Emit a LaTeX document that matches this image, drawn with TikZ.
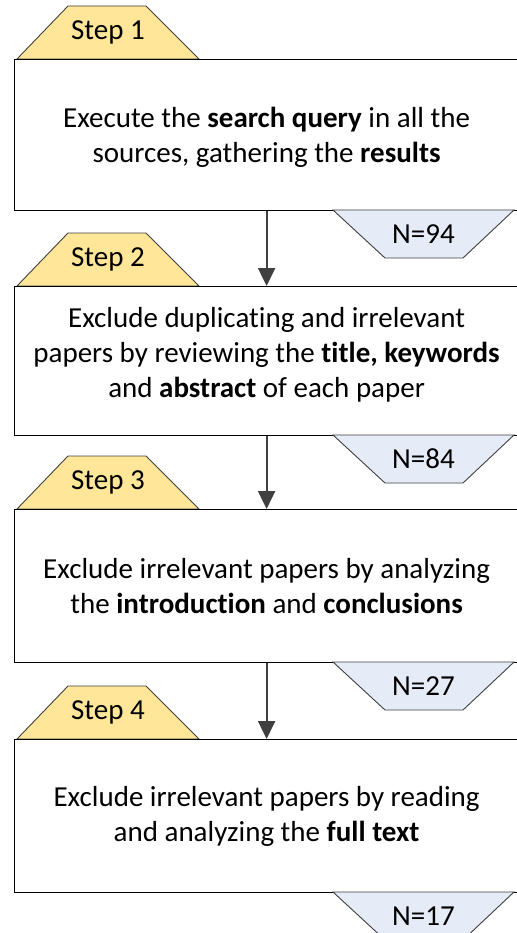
\documentclass[tikz,border=0pt]{standalone}
\usepackage{fontspec}
\setmainfont{Carlito}[Ligatures=NoCommon]
\usetikzlibrary{arrows.meta}
\definecolor{tabfill}{HTML}{FFE699}
\definecolor{nfill}{HTML}{E5EBF7}
\definecolor{edgegray}{HTML}{404040}
\begin{document}
\begin{tikzpicture}[x=1pt,y=-1pt,
  stepbox/.style={draw=black, line width=1.2pt, fill=white, minimum width=504pt,
    anchor=north west, inner sep=0pt},
  boxtext/.style={inner sep=0pt, align=center, font=\fontsize{29}{35}\selectfont},
  tabshape/.style={fill=tabfill, draw=edgegray, line width=0.9pt},
  nshape/.style={fill=nfill, draw=edgegray, line width=0.9pt},
  lbl/.style={font=\fontsize{29}{35}\selectfont, inner sep=0pt},
  flow/.style={draw=edgegray, line width=2.2pt, -{Triangle[width=17pt,length=18pt]}}]
\useasboundingbox (0,0) rectangle (516,933);
% step tabs
\foreach \T/\i in {59/1,286/2,509/3,739/4} {
  \path[tabshape] (17,\T) -- (68,\T-53) -- (146,\T-53) -- (199,\T) -- cycle;
  \node[lbl] (s\i) at (108,\T-26.5) {Step \i};
}
% boxes
\node[stepbox, minimum height=151pt] (b1) at (14,59) {};
\node[stepbox, minimum height=149pt] (b2) at (14,286) {};
\node[stepbox, minimum height=153pt] (b3) at (14,509) {};
\node[stepbox, minimum height=153pt] (b4) at (14,739) {};
\node[boxtext] (t1) at ([yshift=-2pt]b1.center)
  {Execute the \textbf{search query} in all the\\sources, gathering the \textbf{results}};
\node[boxtext] (t2) at ([yshift=6pt]b2.center)
  {Exclude duplicating and irrelevant\\papers by reviewing the \textbf{title, keywords}\\and \textbf{abstract} of each paper};
\node[boxtext] (t3) at (b3.center)
  {Exclude irrelevant papers by analyzing\\the \textbf{introduction} and \textbf{conclusions}};
\node[boxtext] (t4) at (b4.center)
  {Exclude irrelevant papers by reading\\and analyzing the \textbf{full text}};
% counts
\foreach \B/\n in {210/94,435/84,662/27,892/17} {
  \path[nshape] (333,\B) -- (514,\B) -- (463,\B+48) -- (385,\B+48) -- cycle;
  \node[lbl] (n\n) at (423.5,\B+24) {N=\n};
}
% connectors
\draw[flow] (b1.south) -- (b2.north);
\draw[flow] (b2.south) -- (b3.north);
\draw[flow] (b3.south) -- (b4.north);
\end{tikzpicture}
\end{document}
